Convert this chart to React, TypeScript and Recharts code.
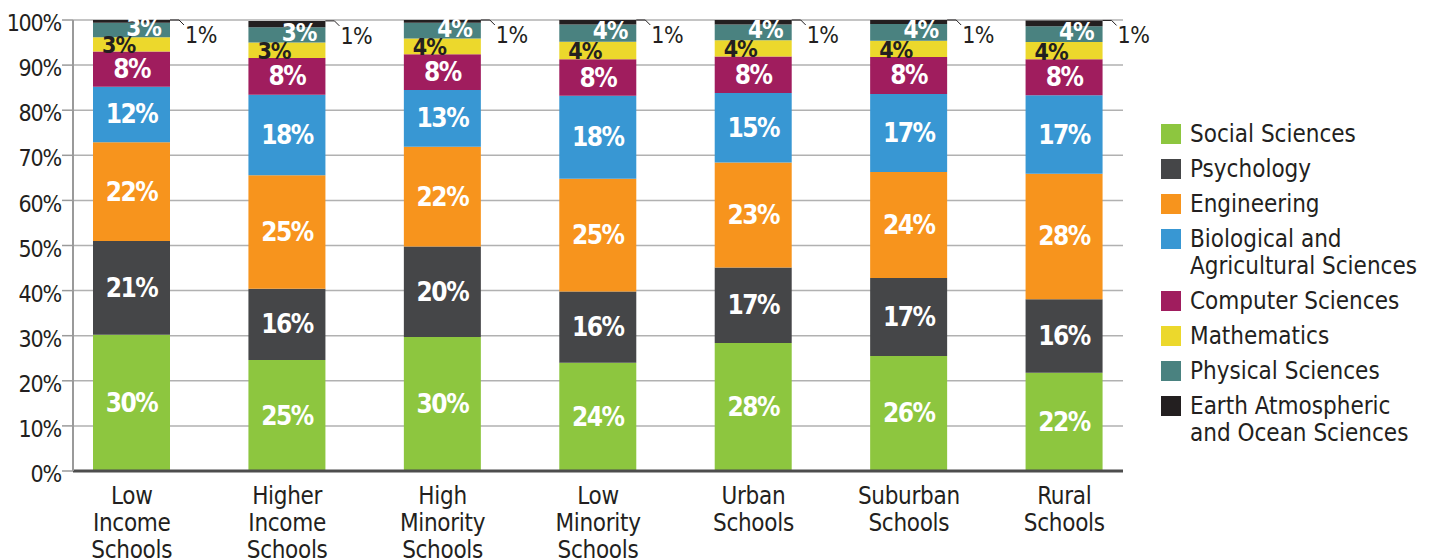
import { Bar, BarChart, CartesianGrid, LabelList, XAxis, YAxis } from "recharts";

const FONT = '"Liberation Sans Narrow", "DejaVu Sans Condensed", "Roboto Condensed", sans-serif';
const INK = "#231f20";

const categories = [
  "Low Income Schools",
  "Higher Income Schools",
  "High Minority Schools",
  "Low Minority Schools",
  "Urban Schools",
  "Suburban Schools",
  "Rural Schools",
];

// shares in %, bottom of the stack first
const socialSciences = [30.2, 24.6, 29.7, 24.0, 28.4, 25.5, 21.8];
const psychology = [20.8, 15.8, 20.1, 15.8, 16.7, 17.3, 16.3];
const engineering = [21.9, 25.2, 22.1, 25.0, 23.3, 23.5, 27.8];
const biological = [12.3, 17.8, 12.6, 18.4, 15.4, 17.3, 17.4];
const computer = [7.8, 8.2, 7.9, 8.1, 8.1, 8.2, 8.0];
const mathematics = [3.2, 3.4, 3.5, 3.9, 3.6, 3.6, 3.8];
const physical = [3.2, 3.4, 3.5, 3.8, 3.5, 3.7, 3.5];
const earth = [0.6, 1.4, 0.6, 1.0, 1.0, 0.9, 1.3];

const yTicks = [0, 10, 20, 30, 40, 50, 60, 70, 80, 90, 100];

const seriesKeys = ["social", "psych", "eng", "bio", "comp", "math", "phys", "earth"];
const seriesNames = [
  "Social Sciences",
  "Psychology",
  "Engineering",
  "Biological and\nAgricultural Sciences",
  "Computer Sciences",
  "Mathematics",
  "Physical Sciences",
  "Earth Atmospheric\nand Ocean Sciences",
];
const seriesColors = ["#8dc63f", "#454648", "#f7941d", "#3897d3", "#a01d5e", "#ecd82c", "#4a8280", "#231f20"];

const data = categories.map((name, i) => ({
  name,
  social: socialSciences[i],
  psych: psychology[i],
  eng: engineering[i],
  bio: biological[i],
  comp: computer[i],
  math: mathematics[i],
  phys: physical[i],
  earth: earth[i],
}));

const pct = (v: any) => `${Math.round(Number(v))}%`;

function centerLabel(props: any) {
  const x = Number(props.x), y = Number(props.y), w = Number(props.width), h = Number(props.height);
  return (
    <text
      x={x + w / 2}
      y={y + h / 2}
      textAnchor="middle"
      dominantBaseline="central"
      fill="#fff"
      fontSize={26}
      fontWeight="bold"
      letterSpacing={-1.5}
      fontFamily={FONT}
    >
      {pct(props.value)}
    </text>
  );
}

function mathLabel(props: any) {
  const x = Number(props.x), y = Number(props.y), h = Number(props.height);
  return (
    <text
      x={x + 9}
      y={y + h / 2 + 1}
      dominantBaseline="central"
      fill={INK}
      fontSize={23}
      fontWeight="bold"
      letterSpacing={-1}
      fontFamily={FONT}
    >
      {pct(props.value)}
    </text>
  );
}

function physLabel(props: any) {
  const x = Number(props.x), y = Number(props.y), w = Number(props.width), h = Number(props.height);
  return (
    <text
      x={x + w - 9}
      y={y + h / 2 - 2}
      textAnchor="end"
      dominantBaseline="central"
      fill="#fff"
      fontSize={24}
      fontWeight="bold"
      letterSpacing={-1}
      fontFamily={FONT}
    >
      {pct(props.value)}
    </text>
  );
}

function earthLabel(props: any) {
  const x = Number(props.x), y = Number(props.y), w = Number(props.width);
  const r = x + w;
  return (
    <g>
      <path d={`M${r},${y} L${r + 9},${y} L${r + 14},${y + 5}`} stroke={INK} strokeWidth={1} fill="none" />
      <text x={r + 15} y={y + 23} fill={INK} fontSize={23} letterSpacing={-0.5} fontFamily={FONT}>
        {pct(props.value)}
      </text>
    </g>
  );
}

function CategoryTick(props: any) {
  const { x, y, payload } = props;
  const words = String(payload.value).split(" ");
  return (
    <text x={x} y={y} textAnchor="middle" fill={INK} fontSize={24} letterSpacing={-0.3} fontFamily={FONT}>
      {words.map((wd, i) => (
        <tspan key={i} x={x} y={y + 33 + i * 27}>
          {wd}
        </tspan>
      ))}
    </text>
  );
}

const labelFor = [centerLabel, centerLabel, centerLabel, centerLabel, centerLabel, mathLabel, physLabel, earthLabel];

export default function App() {
  return (
    <div style={{ position: "absolute", left: 0, top: 0, width: 1439, height: 559, background: "#fff" }}>
      <BarChart width={1439} height={559} data={data} margin={{ top: 20, right: 316, bottom: 0, left: 0 }} barSize={77}>
        <CartesianGrid vertical={false} stroke="#b1b1b1" strokeWidth={1.5} />
        <XAxis
          dataKey="name"
          height={88}
          padding={{ left: -19, right: -19 }}
          tickLine={false}
          tickSize={0}
          tickMargin={0}
          interval={0}
          axisLine={{ stroke: "#4d4d4d", strokeWidth: 3 }}
          tick={<CategoryTick />}
        />
        <YAxis
          width={73}
          domain={[0, 100]}
          ticks={yTicks}
          interval={0}
          tickFormatter={(v) => `${v}%`}
          tickSize={11}
          tickMargin={1}
          axisLine={{ stroke: "#9a9a9a", strokeWidth: 2 }}
          tickLine={{ stroke: "#9a9a9a", strokeWidth: 1.5 }}
          tick={{ fill: INK, fontSize: 23, letterSpacing: -1.2, fontFamily: FONT, dy: 3 }}
        />
        {seriesKeys.map((key, i) => (
          <Bar key={key} dataKey={key} stackId="a" fill={seriesColors[i]} isAnimationActive={false}>
            <LabelList dataKey={key} content={labelFor[i]} />
          </Bar>
        ))}
      </BarChart>
      <div style={{ position: "absolute", left: 1161, top: 121, fontFamily: FONT, fontSize: 24, color: INK }}>
        {seriesNames.map((name, i) => (
          <div key={name} style={{ display: "flex", alignItems: "flex-start", marginBottom: 8 }}>
            <div style={{ width: 20, height: 20, marginTop: 3, background: seriesColors[i], flexShrink: 0 }} />
            <div style={{ marginLeft: 9, lineHeight: "27px", whiteSpace: "pre" }}>{name}</div>
          </div>
        ))}
      </div>
    </div>
  );
}
